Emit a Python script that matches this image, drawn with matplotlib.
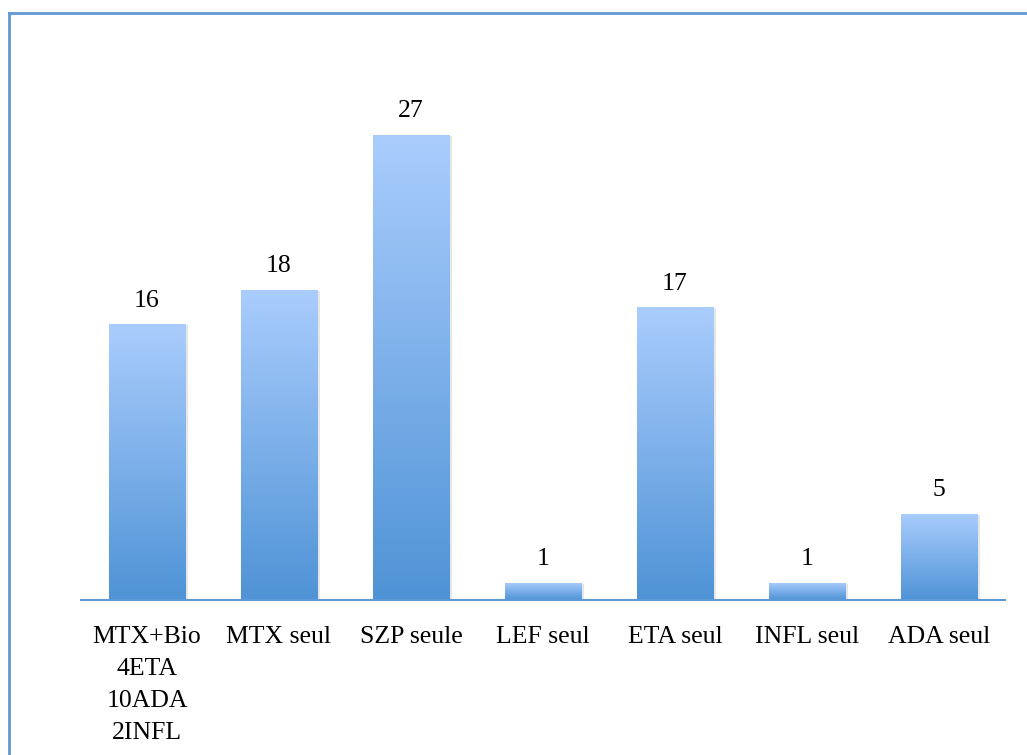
import matplotlib
matplotlib.use("Agg")
import matplotlib.pyplot as plt
import numpy as np
from matplotlib.colors import LinearSegmentedColormap
from matplotlib.lines import Line2D

categories = ["MTX+Bio\n4ETA\n10ADA\n2INFL", "MTX seul", "SZP seule", "LEF seul",
              "ETA seul", "INFL seul", "ADA seul"]
values = [16, 18, 27, 1, 17, 1, 5]

plt.rcParams['font.family'] = ['Liberation Serif', 'DejaVu Serif']

fig = plt.figure(figsize=(10.27, 7.55), dpi=100)
W, H = 1027, 755
ax = fig.add_axes([81 / W, (H - 600) / H, (1005 - 81) / W, (600 - 83.3) / H])

x = np.arange(len(values))
bars = ax.bar(x, values, width=0.576, color='none', edgecolor='none', zorder=2)

# light shadow on the right side of each bar
for b in bars:
    sh = plt.Rectangle((b.get_x() + 0.02, 0), b.get_width(), b.get_height() - 0.05,
                       color='#b8b8b8', alpha=0.35, lw=0, zorder=1)
    ax.add_patch(sh)

# vertical gradient fill
cmap = LinearSegmentedColormap.from_list("grad", ["#4f93d6", "#aacdfd"])
grad = np.linspace(0, 1, 256).reshape(-1, 1)
for b in bars:
    x0, w, h = b.get_x(), b.get_width(), b.get_height()
    im = ax.imshow(grad, cmap=cmap, origin='lower', aspect='auto',
                   extent=[x0, x0 + w, 0, h], zorder=2)
    im.set_clip_path(b)

ax.bar_label(bars, labels=[str(v) for v in values], padding=9, fontsize=18.5)

ax.set_xlim(-0.5, len(values) - 0.5)
ax.set_ylim(0, 30)
ax.set_xticks(x)
ax.set_xticklabels(categories, fontsize=18.5, linespacing=1.58)
ax.tick_params(axis='x', length=0, pad=19)
ax.set_yticks([])
for s in ['top', 'right', 'left']:
    ax.spines[s].set_visible(False)
ax.spines['bottom'].set_color('#5d9ad6')
ax.spines['bottom'].set_linewidth(1.5)
ax.spines['bottom'].set_zorder(3)

# outer frame (left and top edges)
fig.add_artist(Line2D([8.5 / W, 8.5 / W], [0, 1 - 12.5 / H], color='#6199d6', lw=2,
                      transform=fig.transFigure))
fig.add_artist(Line2D([8.5 / W, 1], [1 - 12.5 / H, 1 - 12.5 / H], color='#6199d6', lw=2,
                      transform=fig.transFigure))

fig.savefig("out.png", dpi=100)
